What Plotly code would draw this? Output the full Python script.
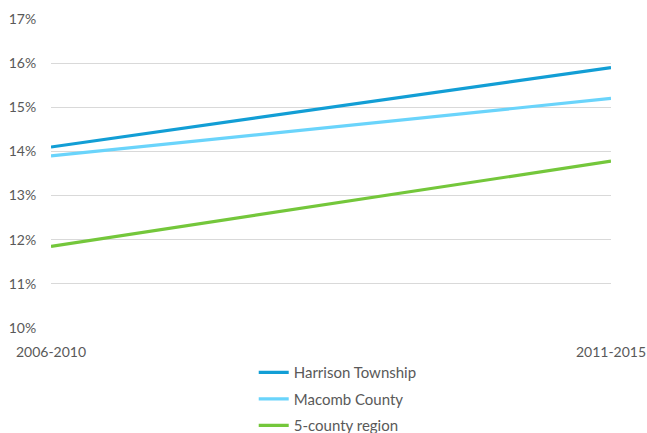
import plotly.graph_objects as go

periods = ["2006-2010", "2011-2015"]
series_names = ["Harrison Township", "Macomb County", "5-county region"]
harrison = [14.1, 15.9]
macomb = [13.9, 15.2]
region = [11.85, 13.78]
colors = ["#129ED5", "#6AD4FB", "#74C73B"]
y_ticks = [10, 11, 12, 13, 14, 15, 16, 17]

FONT = "Lato, Carlito, 'Liberation Sans', sans-serif"

fig = go.Figure()
for name, vals, col in zip(series_names, [harrison, macomb, region], colors):
    fig.add_trace(go.Scatter(
        x=[0, 1], y=vals, mode="lines", name=name, legendgroup=name,
        line=dict(color=col, width=3.2),
    ))

fig.update_layout(
    width=647, height=433,
    margin=dict(l=51, r=36, t=19, b=105, autoexpand=False),
    paper_bgcolor="white", plot_bgcolor="white",
    font=dict(family=FONT, size=13, color="#595959"),
    showlegend=True,
    legend=dict(
        orientation="v", x=0.362, xanchor="left", y=-0.091, yanchor="top",
        font=dict(family=FONT, size=15, color="#595959"),
        tracegroupgap=4, bgcolor="rgba(0,0,0,0)",
    ),
    xaxis=dict(
        range=[0, 1], tickvals=[0, 1], ticktext=periods,
        showgrid=False, zeroline=False, showline=False,
        ticks="outside", ticklen=11, tickcolor="rgba(0,0,0,0)",
        tickfont=dict(family=FONT, size=14, color="#595959"),
        fixedrange=True,
    ),
    yaxis=dict(
        range=[10, 17], tickvals=y_ticks, ticktext=[f"{v}%" for v in y_ticks],
        showgrid=True, gridcolor="#D9D9D9", gridwidth=1,
        zeroline=False, showline=False,
        ticks="outside", ticklen=11, tickcolor="rgba(0,0,0,0)",
        tickfont=dict(family=FONT, size=14, color="#595959"),
        fixedrange=True,
    ),
)

fig.write_html(
    "out.html",
    config={"displayModeBar": False},
    post_script="document.body.style.margin='0';document.body.style.overflow='hidden';",
)
